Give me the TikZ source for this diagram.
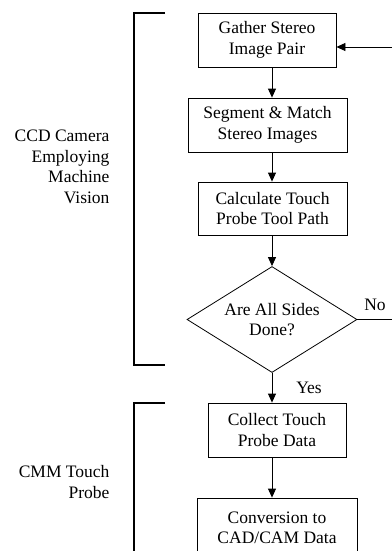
\documentclass[tikz,border=0pt]{standalone}
\usepackage{fontspec}
\setmainfont{Liberation Serif}
\usetikzlibrary{shapes.geometric,arrows.meta}
\tikzset{
  stepbox/.style={draw,line width=.8pt,align=center,inner sep=2pt,minimum height=54pt},
  decide/.style={draw,diamond,line width=.8pt,align=center,inner sep=0pt,aspect=1.63,
    minimum width=170pt,minimum height=106pt},
  flow/.style={-{Triangle[length=9pt,width=8pt]},line width=.8pt},
  bracket/.style={line width=1.4pt},
  side/.style={align=right,anchor=east}
}
\begin{document}
\begin{tikzpicture}
  [x=1pt,y=-1pt,every node/.style={font=\fontsize{17.5}{20.5}\selectfont}]
  \useasboundingbox (0,0) rectangle (391,551);
  \node[stepbox,minimum width=138pt] (gather) at (267,40) {Gather Stereo\\Image Pair};
  \node[stepbox,minimum width=159pt] (segment) at (267.5,125) {Segment \& Match\\Stereo Images};
  \node[stepbox,minimum width=149pt,minimum height=53pt] (calc) at (272.5,208.5) {Calculate Touch\\Probe Tool Path};
  \node[decide] (done) at (272,319.5) {Are All Sides\\Done?};
  \node[stepbox,minimum width=138pt] (collect) at (277,430) {Collect Touch\\Probe Data};
  \node[stepbox,minimum width=160pt,minimum height=60pt] (convert) at (277,528) {Conversion to\\CAD/CAM Data};
  \coordinate (fb) at (396,47);

  % main flow
  \foreach \from/\to in {gather/segment,segment/calc,calc/done,done/collect,collect/convert}
    \draw[flow] (\from.south -| done.north) -- (\to.north -| done.north);

  % loop back
  \draw[flow] (done.east) -- (done.east -| fb) -- (fb) -- (gather.east |- fb);
  \node (no) at (375,305) {No};
  \node (yes) at (309,388) {Yes};

  % brackets
  \draw[bracket] (165,13) -- (134,13) -- (134,365) -- (165,365);
  \draw[bracket] (165,403) -- (134,403) -- (134,560);
  \node[side] (ccd) at (113,167) {CCD Camera\\Employing\\Machine\\Vision};
  \node[side] (cmm) at (113,482) {CMM Touch\\Probe};
\end{tikzpicture}
\end{document}
